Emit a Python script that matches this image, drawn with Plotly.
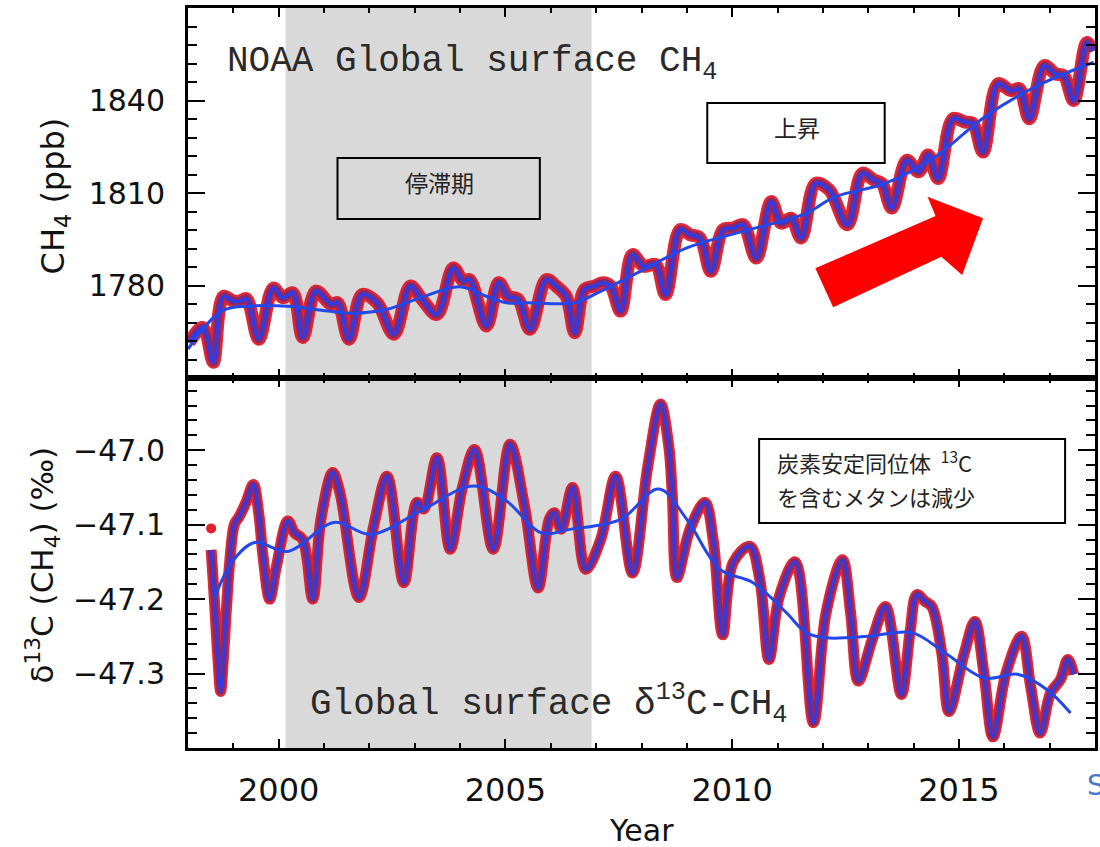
import plotly.graph_objects as go
from plotly.subplots import make_subplots

# ---------------- data ----------------
ch4_years = [1998.02, 1998.31, 1998.40, 1998.56, 1998.78, 1999.00, 1999.15, 1999.29, 1999.56, 1999.88,
             2000.09, 2000.31, 2000.53, 2000.82, 2001.15, 2001.30, 2001.55, 2001.84, 2002.17, 2002.54,
             2002.90, 2003.16, 2003.49, 2003.85, 2004.07, 2004.21, 2004.58, 2004.85, 2005.06, 2005.28,
             2005.54, 2005.90, 2006.12, 2006.34, 2006.53, 2006.74, 2006.96, 2007.14, 2007.32, 2007.54,
             2007.80, 2008.05, 2008.31, 2008.53, 2008.85, 2009.07, 2009.29, 2009.53, 2009.80, 2010.02,
             2010.24, 2010.53, 2010.86, 2011.08, 2011.30, 2011.52, 2011.84, 2012.14, 2012.54, 2012.87,
             2013.12, 2013.30, 2013.52, 2013.85, 2014.11, 2014.32, 2014.54, 2014.87, 2015.13, 2015.31,
             2015.53, 2015.86, 2016.15, 2016.33, 2016.55, 2016.88, 2017.13, 2017.31, 2017.53, 2017.82,
             2017.95]
ch4_ppb = [1761.5, 1766.4, 1764.5, 1755.1, 1776.5, 1774.9, 1775.0, 1775.7, 1762.6, 1779.2,
           1776.0, 1777.6, 1763.1, 1778.2, 1773.9, 1774.4, 1762.6, 1777.1, 1774.4, 1764.2,
           1779.8, 1775.5, 1770.6, 1785.7, 1781.4, 1781.9, 1766.9, 1780.9, 1776.5, 1775.5,
           1765.8, 1781.9, 1779.8, 1776.5, 1764.7, 1778.7, 1779.8, 1780.9, 1779.8, 1771.7,
           1790.0, 1786.2, 1786.8, 1777.1, 1798.1, 1796.5, 1795.4, 1784.6, 1798.1, 1798.6,
           1799.7, 1788.9, 1807.2, 1800.2, 1801.8, 1795.4, 1813.1, 1811.0, 1799.7, 1816.4,
           1814.2, 1813.1, 1805.1, 1820.6, 1816.9, 1822.3, 1814.7, 1834.1, 1833.0, 1832.5,
           1823.3, 1845.4, 1843.2, 1843.8, 1834.1, 1851.3, 1848.6, 1848.1, 1840.0, 1858.8,
           1856.0]

ch4_trend_years = [1998.00, 1998.74, 1999.33, 2000.20, 2001.08, 2001.66, 2002.39, 2003.12, 2003.99,
                   2004.58, 2005.02, 2005.50, 2006.52, 2007.03, 2007.91, 2009.00, 2010.09, 2011.19,
                   2011.63, 2012.28, 2013.37, 2014.47, 2015.56, 2016.66, 2017.97]
ch4_trend_ppb = [1759.4, 1771.7, 1773.3, 1773.3, 1771.7, 1771.0, 1772.3, 1776.0, 1779.6,
                 1776.5, 1774.4, 1774.4, 1774.4, 1777.6, 1784.1, 1792.2, 1797.0, 1801.3,
                 1803.4, 1808.8, 1813.1, 1821.7, 1834.6, 1844.3, 1852.4]

d13c_first_year = [1998.51]
d13c_first_value = [-47.105]

d13c_years = [1998.51, 1998.55, 1998.60, 1998.66, 1998.72, 1998.78, 1998.85, 1998.92, 1999.00, 1999.04,
              1999.12, 1999.28, 1999.44, 1999.56, 1999.65, 1999.80, 1999.95, 2000.20, 2000.35, 2000.53,
              2000.75, 2000.93, 2001.19, 2001.35, 2001.77, 2002.10, 2002.39, 2002.76, 2003.05, 2003.20,
              2003.49, 2003.78, 2004.05, 2004.32, 2004.73, 2005.10, 2005.42, 2005.72, 2005.97, 2006.08,
              2006.23, 2006.48, 2006.77, 2007.10, 2007.43, 2007.80, 2008.14, 2008.42, 2008.60, 2008.68,
              2008.78, 2009.07, 2009.40, 2009.58, 2009.79, 2010.02, 2010.39, 2010.61, 2010.81, 2011.04,
              2011.39, 2011.79, 2012.07, 2012.43, 2012.61, 2012.78, 2013.09, 2013.38, 2013.73, 2013.92,
              2014.07, 2014.25, 2014.40, 2014.62, 2014.78, 2015.12, 2015.35, 2015.55, 2015.75, 2016.04,
              2016.38, 2016.58, 2016.79, 2017.02, 2017.24, 2017.40, 2017.53]
d13c_values = [-47.134, -47.170, -47.220, -47.280, -47.324, -47.280, -47.210, -47.150, -47.105, -47.097,
               -47.090, -47.070, -47.046, -47.085, -47.140, -47.200, -47.156, -47.095, -47.111, -47.120,
               -47.200, -47.093, -47.030, -47.057, -47.198, -47.100, -47.035, -47.178, -47.070, -47.079,
               -47.010, -47.133, -47.050, -46.999, -47.133, -46.992, -47.075, -47.185, -47.092, -47.084,
               -47.106, -47.050, -47.160, -47.120, -47.035, -47.165, -47.021, -46.938, -46.994, -47.061,
               -47.171, -47.106, -47.070, -47.120, -47.248, -47.151, -47.129, -47.174, -47.281, -47.196,
               -47.150, -47.366, -47.218, -47.147, -47.218, -47.310, -47.254, -47.210, -47.328, -47.245,
               -47.194, -47.203, -47.210, -47.272, -47.351, -47.272, -47.230, -47.299, -47.385, -47.299,
               -47.250, -47.317, -47.380, -47.326, -47.308, -47.281, -47.301]

d13c_trend_years = [1998.58, 1998.96, 1999.47, 2000.20, 2001.22, 2002.03, 2003.12, 2004.29, 2005.02,
                    2005.79, 2006.45, 2007.54, 2008.38, 2009.00, 2009.73, 2010.46, 2011.19, 2011.63,
                    2012.06, 2013.01, 2013.96, 2014.69, 2015.56, 2016.29, 2016.95, 2017.46]
d13c_trend_values = [-47.200, -47.151, -47.124, -47.136, -47.097, -47.113, -47.082, -47.048, -47.068,
                     -47.111, -47.106, -47.093, -47.052, -47.093, -47.160, -47.178, -47.218, -47.245,
                     -47.252, -47.250, -47.245, -47.272, -47.306, -47.301, -47.322, -47.353]

stagnation_period = [2000.15, 2006.9]
x_tick_vals = [2000, 2005, 2010, 2015]
ch4_tick_vals = [1780, 1810, 1840]
d13c_tick_vals = [-47.3, -47.2, -47.1, -47.0]
d13c_tick_text = ["\u221247.3", "\u221247.2", "\u221247.1", "\u221247.0"]

# ---------------- styling ----------------
RED = "rgba(225,20,35,0.92)"
PURPLE = "#862a6e"
BLUE = "#2b3cf0"
TREND = "#2448e8"

W, H = 1100, 847
L, R, T, B = 188, 2, 8, 99


def pxx(px):
    return (px - L) / (W - L - R)


def pxy(py):
    return (H - B - py) / (H - T - B)


fig = make_subplots(rows=2, cols=1, shared_xaxes=True, vertical_spacing=0)


def add_band(xs, ys, row, red_w, purple_w, blue_w):
    fig.add_trace(go.Scatter(x=xs, y=ys, mode="lines", line=dict(color=RED, width=red_w, shape="spline", smoothing=1.0),
                             hoverinfo="skip", showlegend=False), row=row, col=1)
    fig.add_trace(go.Scatter(x=xs, y=ys, mode="lines", line=dict(color=PURPLE, width=purple_w, shape="spline", smoothing=1.0),
                             hoverinfo="skip", showlegend=False), row=row, col=1)
    fig.add_trace(go.Scatter(x=xs, y=ys, mode="lines", line=dict(color=BLUE, width=blue_w, shape="spline", smoothing=1.0),
                             showlegend=False), row=row, col=1)


add_band(ch4_years, ch4_ppb, 1, 13, 8, 3)
fig.add_trace(go.Scatter(x=ch4_trend_years, y=ch4_trend_ppb, mode="lines",
                         line=dict(color=TREND, width=3, shape="spline", smoothing=1.0), showlegend=False), row=1, col=1)

add_band(d13c_years, d13c_values, 2, 11, 7, 2.5)
fig.add_trace(go.Scatter(x=d13c_first_year, y=d13c_first_value, mode="markers",
                         marker=dict(color="#e0202a", size=10), showlegend=False), row=2, col=1)
fig.add_trace(go.Scatter(x=d13c_trend_years, y=d13c_trend_values, mode="lines",
                         line=dict(color=TREND, width=3, shape="spline", smoothing=1.0), showlegend=False), row=2, col=1)

tick_font = dict(family="DejaVu Sans, Arial", size=30, color="#111")
xaxis_common = dict(range=[1998, 2018], tickvals=x_tick_vals, ticks="inside", ticklen=9, tickwidth=2,
                    tickcolor="black", showline=True, linewidth=3, linecolor="black", mirror="allticks",
                    showgrid=False, zeroline=False,
                    minor=dict(dtick=1, tick0=2000, ticks="inside", ticklen=5, tickwidth=2,
                               tickcolor="black", showgrid=False))
fig.update_xaxes(**xaxis_common)
fig.update_xaxes(showticklabels=False, row=1, col=1)
fig.update_xaxes(showticklabels=True, tickfont=dict(family="DejaVu Sans, Arial", size=32, color="#111"),
                 ticklabelstandoff=12, row=2, col=1)

yaxis_common = dict(ticks="inside", ticklen=17, tickwidth=2, tickcolor="black", showline=True, linewidth=3,
                    linecolor="black", mirror="allticks", showgrid=False, zeroline=False, tickfont=tick_font,
                    ticklabelstandoff=14)
fig.update_yaxes(range=[1750, 1870], tickvals=ch4_tick_vals,
                 minor=dict(dtick=6, tick0=1780, ticks="inside", ticklen=9, tickwidth=2, tickcolor="black",
                            showgrid=False), row=1, col=1, **yaxis_common)
fig.update_yaxes(range=[-47.4, -46.903], tickvals=d13c_tick_vals, ticktext=d13c_tick_text,
                 minor=dict(dtick=0.02, tick0=-47.0, ticks="inside", ticklen=9, tickwidth=2, tickcolor="black",
                            showgrid=False), row=2, col=1, **yaxis_common)

shapes = [
    dict(type="rect", xref="x", yref="paper", x0=stagnation_period[0], x1=stagnation_period[1], y0=0, y1=1,
         fillcolor="#d9d9d9", line=dict(width=0), layer="below"),
    dict(type="rect", xref="paper", yref="paper", x0=pxx(338), x1=pxx(541), y0=pxy(219), y1=pxy(158),
         line=dict(color="black", width=2), fillcolor="rgba(0,0,0,0)"),
    dict(type="rect", xref="paper", yref="paper", x0=pxx(709), x1=pxx(887), y0=pxy(163), y1=pxy(103),
         line=dict(color="black", width=2), fillcolor="white"),
    dict(type="rect", xref="paper", yref="paper", x0=pxx(761), x1=pxx(1068), y0=pxy(523), y1=pxy(439),
         line=dict(color="black", width=2), fillcolor="white"),
]

arrow_pts = [(817.4, 268.3), (938, 216), (930, 196.7), (985.7, 218.3), (964.7, 275), (943.8, 256.7), (835.3, 307.3)]
path = "M " + " L ".join(f"{pxx(a):.5f},{pxy(b):.5f}" for a, b in arrow_pts) + " Z"
shapes.append(dict(type="path", xref="paper", yref="paper", path=path, fillcolor="#ff0000", line=dict(width=0)))

jp = "Noto Sans CJK JP"
mono = "Liberation Mono, DejaVu Sans Mono, monospace"
annotations = [
    dict(text="NOAA Global surface CH<sub>4</sub>", x=pxx(225), y=pxy(64), xanchor="left", yanchor="middle",
         font=dict(family=mono, size=36, color="#2a2a2a")),
    dict(text="Global surface \u03b4<sup>13</sup>C-CH<sub>4</sub>", x=pxx(308), y=pxy(704), xanchor="left",
         yanchor="middle", font=dict(family=mono, size=36, color="#2a2a2a")),
    dict(text="停滞期", x=pxx(440), y=pxy(182), xanchor="center", yanchor="middle",
         font=dict(family=jp, size=23, color="#222")),
    dict(text="上昇", x=pxx(799), y=pxy(127), xanchor="center", yanchor="middle",
         font=dict(family=jp, size=23, color="#222")),
    dict(text="炭素安定同位体\u00a0\u00a0<sup>13</sup>C", x=pxx(777), y=pxy(461), xanchor="left", yanchor="middle",
         font=dict(family=jp, size=22, color="#222")),
    dict(text="を含むメタンは減少", x=pxx(777), y=pxy(496), xanchor="left", yanchor="middle",
         font=dict(family=jp, size=22, color="#222")),
    dict(text="CH<sub>4</sub> (ppb)", x=pxx(55), y=pxy(196), xanchor="center", yanchor="middle", textangle=-90,
         font=dict(family="DejaVu Sans, Arial", size=32, color="#111")),
    dict(text="\u03b4<sup>13</sup>C (CH<sub>4</sub>) (\u2030)", x=pxx(42), y=pxy(565), xanchor="center",
         yanchor="middle", textangle=-90, font=dict(family="DejaVu Sans, Arial", size=31, color="#111")),
    dict(text="Year", x=pxx(643), y=pxy(830), xanchor="center", yanchor="middle",
         font=dict(family="DejaVu Sans, Arial", size=30, color="#111")),
    dict(text="S", x=pxx(1088), y=pxy(786), xanchor="left", yanchor="middle",
         font=dict(family="DejaVu Sans, Arial", size=28, color="#4a78c8")),
]
for a in annotations:
    a.update(xref="paper", yref="paper", showarrow=False)

fig.update_layout(width=W, height=H, margin=dict(l=L, r=R, t=T, b=B), paper_bgcolor="white",
                  plot_bgcolor="rgba(0,0,0,0)", shapes=shapes, annotations=annotations, showlegend=False)

fig.write_html("out.html", config={"displayModeBar": False},
               post_script="document.body.style.margin='0';")
